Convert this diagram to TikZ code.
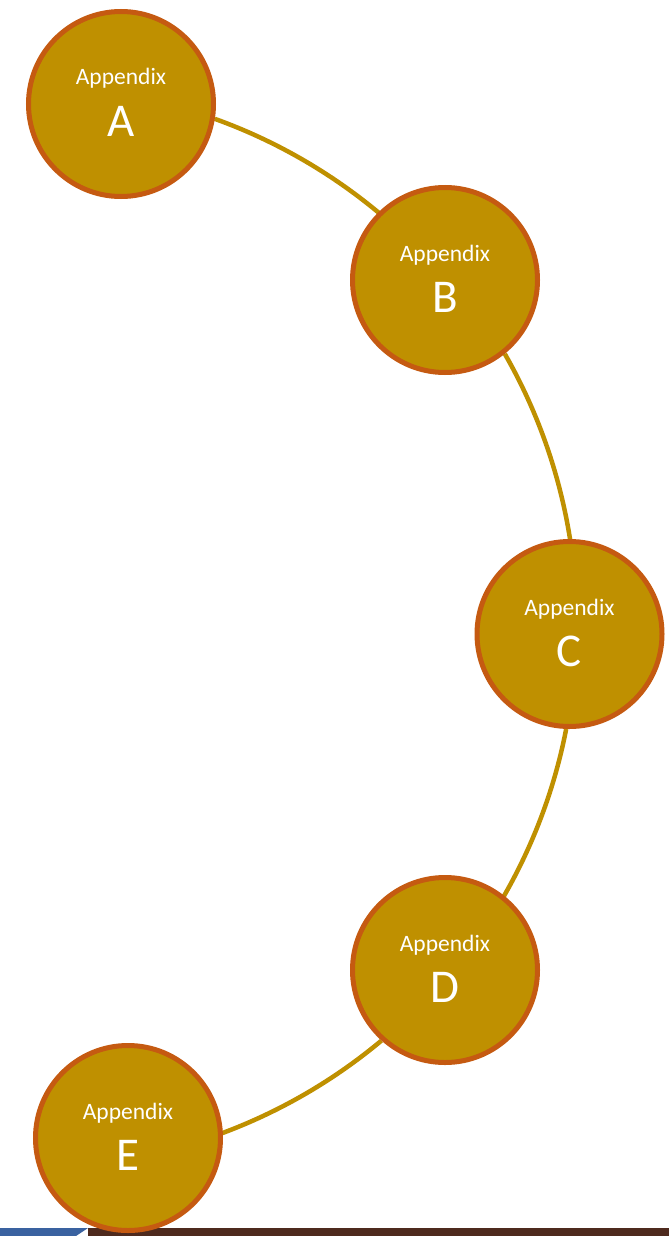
\documentclass[tikz,border=0pt]{standalone}
\usepackage{fontspec}
\setmainfont{Carlito}
\usetikzlibrary{backgrounds}
\definecolor{gold}{HTML}{BF9000}
\definecolor{rim}{HTML}{C55A11}
\definecolor{barblue}{HTML}{3A62A0}
\definecolor{barbrown}{HTML}{4E2A1E}
\begin{document}
\begin{tikzpicture}[x=1pt,y=-1pt,
  bubble/.style={circle, draw=rim, line width=5pt, fill=gold, minimum size=185pt, inner sep=0pt},
  link/.style={draw=gold, line width=4.5pt},
  small/.style={text=white, anchor=base, font=\fontsize{23.5}{28}\selectfont},
  big/.style={text=white, anchor=base, font=\fontsize{47}{52}\selectfont}]
\useasboundingbox (0,0) rectangle (669,1236);
% bubbles
\node[bubble] (A) at (121,104) {};
\node[bubble] (B) at (445,280) {};
\node[bubble] (C) at (569.5,634) {};
\node[bubble] (D) at (445,970) {};
\node[bubble] (E) at (128,1138) {};
\begin{scope}[on background layer]
  % footer bar
  \fill[barblue] (0,1228) -- (88,1228) -- (76,1236) -- (0,1236) -- cycle;
  \fill[barbrown] (88,1228) rectangle (669,1236);
  % connectors: pieces of one large arc (radius 544) running through the bubbles
  \foreach \n/\a/\s/\e in {A/-9/-70.2/-48.5, B/-51/-29.8/-7.5, C/-92/11.0/31, D/-132/50.1/71}
    \draw[link] (\n.\a) arc[start angle=\s, end angle=\e, radius=544];
\end{scope}
% labels
\foreach \n/\l in {A/A,B/B,C/C,D/D,E/E}{
  \node[small] at ([yshift=19pt]\n.center) {Appendix};
  \node[big] at ([yshift=-32pt]\n.center) {\l};
}
\end{tikzpicture}
\end{document}
